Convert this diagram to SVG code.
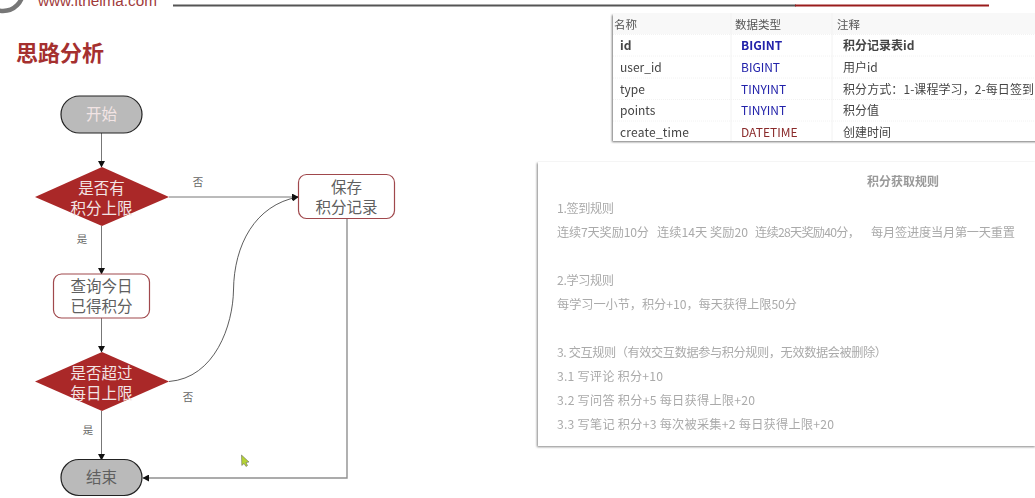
<svg xmlns="http://www.w3.org/2000/svg" width="1035" height="498" viewBox="0 0 1035 498">
<style>
text{font-family:"Noto Sans CJK SC","Liberation Sans",sans-serif}
.n{font-size:15.5px;text-anchor:middle;fill:#5f5f5f}
.w{font-size:15.5px;text-anchor:middle;fill:#f2e4e4}
.lb{font-size:10.5px;text-anchor:middle;fill:#666}
.dia{fill:#aa2828}
.term{fill:#bababa;stroke:#222;stroke-width:1.2}
.proc{fill:#fff;stroke:#a0484c;stroke-width:1.2}
.c{fill:none;stroke:#777;stroke-width:1}
.g{fill:none;stroke:#909090;stroke-width:1.4}
.k{fill:none;stroke:#333;stroke-width:.8}
.th{font-size:11.5px;fill:#555}
.td{font-size:12px;fill:#444}
.b{fill:#2222aa;font-size:12px}
.r{font-size:12.2px;fill:#aaa}
</style>
<defs>
<marker id="a" markerWidth="7" markerHeight="7" refX="6" refY="3.5" orient="auto" markerUnits="userSpaceOnUse"><path d="M0 0L6.500 3.500L0 7Z" fill="#111"/></marker>
<filter id="sh" x="-5%" y="-5%" width="110%" height="110%"><feGaussianBlur stdDeviation="1.200"/></filter>
<filter id="soft" x="-2%" y="-5%" width="104%" height="110%"><feGaussianBlur stdDeviation="0.350"/></filter>
</defs>
<rect width="1035" height="498" fill="#fff"/>
<g id="header">
<circle cx="3" cy="-9" r="20" fill="none" stroke="#777" stroke-width="4.500"/>
<text x="38" y="6" font-size="15.300" fill="#a03a3a" style="font-family:'Liberation Sans',sans-serif">www.itheima.com</text>
<rect x="173" y="4.500" width="623" height="2" fill="#555"/>
<rect x="795" y="4.500" width="194" height="2" fill="#9a1c1c"/>
<text x="16" y="61" font-size="22" font-weight="700" fill="#a5302f">思路分析</text>
</g>
<g id="connectors">
<path class="c" d="M101.500 133V167" marker-end="url(#a)"/>
<path class="c" d="M169 197H298" marker-end="url(#a)"/>
<path class="c" d="M101.500 226V274" marker-end="url(#a)"/>
<path class="c" d="M101.500 318V352" marker-end="url(#a)"/>
<path class="c" d="M101.500 411V460" marker-end="url(#a)"/>
<path class="k" d="M169 381.500C215 378 233 325 233.500 290C234 245 255 205 298 197" marker-end="url(#a)"/>
<path class="g" d="M347 218.500V478H143" marker-end="url(#a)"/>
<text class="lb" x="198" y="186">否</text>
<text class="lb" x="82" y="243">是</text>
<text class="lb" x="188" y="401">否</text>
<text class="lb" x="88" y="434">是</text>
</g>
<g id="start"><rect class="term" x="61" y="96" width="81" height="37" rx="18.500"/><text class="w" x="101.500" y="119.500">开始</text></g>
<g id="check-limit"><path class="dia" d="M35 197L102 167L169 197L102 226Z"/><text class="w" x="101.500" y="194">是否有</text><text class="w" x="101.500" y="214">积分上限</text></g>
<g id="save"><rect class="proc" x="298.500" y="174.500" width="96" height="44" rx="8"/><text class="n" x="346.500" y="192.500">保存</text><text class="n" x="346.500" y="212.500">积分记录</text></g>
<g id="query"><rect class="proc" x="53.500" y="274" width="96" height="44" rx="8"/><text class="n" x="101.500" y="292">查询今日</text><text class="n" x="101.500" y="312">已得积分</text></g>
<g id="check-daily"><path class="dia" d="M35 381.500L102 352L169 381.500L102 411Z"/><text class="w" x="101.500" y="379">是否超过</text><text class="w" x="101.500" y="399">每日上限</text></g>
<g id="end"><rect class="term" x="61" y="459.500" width="81" height="36" rx="18"/><text class="n" x="101.500" y="483">结束</text></g>
<g id="table">
<rect x="612" y="15" width="426" height="127" fill="#777" filter="url(#sh)"/>
<rect x="613" y="13" width="422" height="128" fill="#fff"/>
<rect x="613" y="13" width="422" height="21" fill="#f8f8f8"/>
<g stroke="#f2f2f2" stroke-width="1"><path d="M731 13V141M832 13V141"/><path d="M613 34.500H1035M613 56H1035M613 78H1035M613 99.500H1035M613 121H1035" stroke-dasharray="1 1"/></g>
<g filter="url(#soft)">
<text class="th" x="614" y="29">名称</text><text class="th" x="735" y="29">数据类型</text><text class="th" x="837" y="29">注释</text>
<text class="td" x="620" y="50" font-weight="700">id</text><text class="b" x="741" y="50" font-weight="700">BIGINT</text><text class="td" x="843" y="50" font-weight="700">积分记录表id</text>
<text class="td" x="620" y="72">user_id</text><text class="b" x="741" y="72">BIGINT</text><text class="td" x="843" y="72">用户id</text>
<text class="td" x="620" y="94">type</text><text class="b" x="741" y="94">TINYINT</text><text class="td" x="843" y="94" textLength="191">积分方式：1-课程学习，2-每日签到</text>
<text class="td" x="620" y="115">points</text><text class="b" x="741" y="115">TINYINT</text><text class="td" x="843" y="115">积分值</text>
<text class="td" x="620" y="137" textLength="69">create_time</text><text class="b" x="741" y="137" style="fill:#8a2a2a">DATETIME</text><text class="td" x="843" y="137">创建时间</text>
</g>
</g>
<g id="rules">
<rect x="537" y="163" width="498" height="284" fill="#888" filter="url(#sh)"/>
<rect x="538" y="162" width="497" height="284" fill="#fff"/>
<g filter="url(#soft)">
<text x="867" y="186" font-size="12px" font-weight="700" fill="#999">积分获取规则</text>
<text class="r" x="557" y="213" textLength="57">1.签到规则</text>
<text class="r" y="237"><tspan x="557" textLength="92">连续7天奖励10分</tspan><tspan x="657" textLength="91">连续14天 奖励20</tspan><tspan x="755" textLength="105">连续28天奖励40分，</tspan><tspan x="871" textLength="144">每月签进度当月第一天重置</tspan></text>
<text class="r" x="557" y="285" textLength="57">2.学习规则</text>
<text class="r" x="557" y="309" textLength="240">每学习一小节，积分+10，每天获得上限50分</text>
<text class="r" x="557" y="357" textLength="330">3. 交互规则（有效交互数据参与积分规则，无效数据会被删除）</text>
<text class="r" x="557" y="381" textLength="106">3.1 写评论 积分+10</text>
<text class="r" x="557" y="405" textLength="198">3.2 写问答 积分+5 每日获得上限+20</text>
<text class="r" x="557" y="429" textLength="277">3.3 写笔记 积分+3 每次被采集+2 每日获得上限+20</text>
</g>
</g>
<path id="cursor" d="M241.500 455L241.800 465.500L244 463.500L246 466.500L247.500 465.500L246 462.500L249 462Z" fill="#b5d334" stroke="#555" stroke-width=".5"/>
</svg>
